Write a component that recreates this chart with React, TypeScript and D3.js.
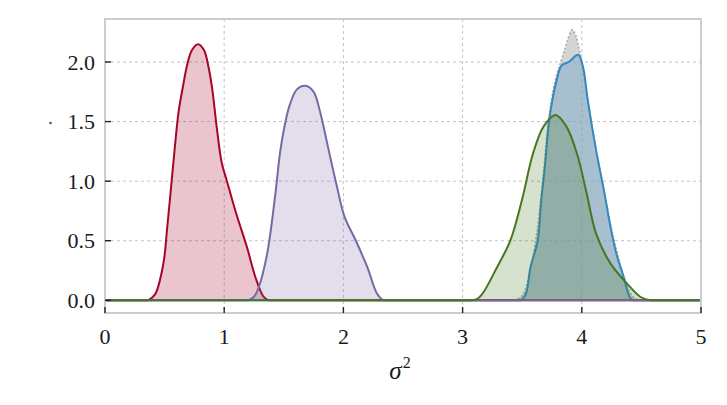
import React from "react";
import * as d3 from "d3";

// ---- data ----
const xTicks = [0, 1, 2, 3, 4, 5];
const yTicks = [0.0, 0.5, 1.0, 1.5, 2.0];
const yTickLabels = ["0.0", "0.5", "1.0", "1.5", "2.0"];

const redSigma = [0, 0.36, 0.42, 0.49, 0.52, 0.56, 0.6, 0.62, 0.655, 0.69, 0.73, 0.78, 0.83, 0.87, 0.9, 0.94, 0.98, 1.02, 1.1, 1.19, 1.26, 1.33, 1.37, 5];
const redDensity = [0, 0, 0.05, 0.31, 0.59, 1.01, 1.43, 1.6, 1.8, 1.98, 2.1, 2.15, 2.1, 1.95, 1.77, 1.43, 1.15, 1.01, 0.73, 0.45, 0.2, 0.03, 0, 0];

const purpleSigma = [0, 1.2, 1.25, 1.29, 1.36, 1.43, 1.47, 1.51, 1.55, 1.61, 1.68, 1.75, 1.8, 1.87, 1.94, 2.01, 2.1, 2.2, 2.28, 2.33, 5];
const purpleDensity = [0, 0, 0.03, 0.11, 0.39, 0.9, 1.25, 1.48, 1.64, 1.77, 1.8, 1.75, 1.6, 1.29, 0.98, 0.7, 0.51, 0.28, 0.06, 0, 0];

const greenSigma = [0, 3.06, 3.12, 3.17, 3.29, 3.4, 3.5, 3.59, 3.68, 3.78, 3.87, 3.96, 4.04, 4.12, 4.24, 4.38, 4.49, 4.58, 5];
const greenDensity = [0, 0, 0.01, 0.06, 0.28, 0.5, 0.85, 1.23, 1.46, 1.555, 1.46, 1.23, 0.9, 0.56, 0.31, 0.14, 0.03, 0, 0];

const blueSigma = [0, 3.49, 3.53, 3.57, 3.63, 3.66, 3.69, 3.73, 3.79, 3.83, 3.89, 3.97, 4.01, 4.05, 4.12, 4.19, 4.24, 4.29, 4.35, 4.4, 4.43, 5];
const blueDensity = [0, 0, 0.05, 0.28, 0.5, 0.84, 1.12, 1.54, 1.85, 1.97, 2.0, 2.06, 1.96, 1.68, 1.26, 0.9, 0.62, 0.39, 0.2, 0.03, 0, 0];

const graySigma = [0, 3.43, 3.5, 3.56, 3.62, 3.67, 3.72, 3.78, 3.83, 3.87, 3.9, 3.92, 3.95, 3.98, 4.01, 4.05, 4.12, 4.19, 4.25, 4.31, 4.37, 4.43, 4.48, 5];
const grayDensity = [0, 0, 0.04, 0.22, 0.55, 0.98, 1.5, 1.86, 2.02, 2.15, 2.24, 2.27, 2.22, 2.1, 1.95, 1.68, 1.26, 0.9, 0.6, 0.35, 0.15, 0.03, 0, 0];

const series = [
  { name: "gray", xs: graySigma, ys: grayDensity, color: "#aaaaaa", fill: "#b8b8b8", fillOpacity: 0.6, dash: "2,2", width: 1.6 },
  { name: "blue", xs: blueSigma, ys: blueDensity, color: "#348ABD", fill: "#348ABD", fillOpacity: 0.28, dash: null, width: 2 },
  { name: "red", xs: redSigma, ys: redDensity, color: "#A60628", fill: "#A60628", fillOpacity: 0.23, dash: null, width: 2 },
  { name: "purple", xs: purpleSigma, ys: purpleDensity, color: "#7A68A6", fill: "#7A68A6", fillOpacity: 0.22, dash: null, width: 2 },
  { name: "green", xs: greenSigma, ys: greenDensity, color: "#467821", fill: "#467821", fillOpacity: 0.22, dash: null, width: 2 },
];

const W = 727;
const H = 405;
const L = 105, R = 701, T = 19, B = 313;

export default function App() {
  const x = d3.scaleLinear().domain([0, 5]).range([L, R]);
  const y = d3.scaleLinear().domain([0, 2.0]).range([300.3, 62]);
  const curve = d3.curveCatmullRom.alpha(0.5);
  const line = d3.line<[number, number]>().x(d => x(d[0])).y(d => Math.min(y(0), y(d[1]))).curve(curve);
  const area = d3.area<[number, number]>().x(d => x(d[0])).y0(y(0)).y1(d => y(d[1])).curve(curve);
  const font = "'Liberation Serif', 'DejaVu Serif', serif";

  return (
    <svg width={W} height={H} style={{ position: "absolute", left: 0, top: 0, background: "#fff" }}>
      <defs>
        <clipPath id="plot">
          <rect x={L} y={T} width={R - L} height={B - T} />
        </clipPath>
        <clipPath id="above0">
          <rect x={L} y={T} width={R - L} height={y(0) - T + 1} />
        </clipPath>
      </defs>
      {/* grid */}
      <g stroke="#c4c4c4" strokeWidth={1} strokeDasharray="3,3">
        {xTicks.slice(1, -1).map(t => (
          <line key={"gx" + t} x1={x(t)} x2={x(t)} y1={T} y2={B} />
        ))}
        {yTicks.slice(1).map(t => (
          <line key={"gy" + t} x1={L} x2={R} y1={y(t)} y2={y(t)} />
        ))}
      </g>
      {/* curves */}
      <g clipPath="url(#plot)">
        {series.map(s => {
          const pts = s.xs.map((v, i) => [v, s.ys[i]] as [number, number]);
          const body = pts.slice(1, -1);
          const first = body[0];
          const last = body[body.length - 1];
          return (
            <g key={s.name}>
              <path d={area(body) || ""} fill={s.fill} fillOpacity={s.fillOpacity} stroke="none" clipPath="url(#above0)" />
              <path d={line(body) || ""} fill="none" stroke={s.color} strokeWidth={s.width} strokeDasharray={s.dash || undefined} />
              <line x1={x(pts[0][0])} x2={x(first[0])} y1={y(0)} y2={y(0)} stroke={s.color} strokeWidth={s.width} />
              <line x1={x(last[0])} x2={x(pts[pts.length - 1][0])} y1={y(0)} y2={y(0)} stroke={s.color} strokeWidth={s.width} />
            </g>
          );
        })}
      </g>
      {/* frame */}
      <rect x={L} y={T} width={R - L} height={B - T} fill="none" stroke="#cccccc" strokeWidth={2} />
      {/* ticks */}
      <g stroke="#222" strokeWidth={1.4}>
        {yTicks.map(t => (
          <line key={"ty" + t} x1={L} x2={L + 6} y1={y(t)} y2={y(t)} />
        ))}
        {xTicks.map(t => (
          <line key={"tx" + t} x1={x(t)} x2={x(t)} y1={B} y2={B - 6} />
        ))}
      </g>
      {/* tick labels */}
      <g fontFamily={font} fontSize={22} fill="#1a1a1a">
        {yTicks.map((t, i) => (
          <text key={"ly" + t} x={95} y={y(t)} textAnchor="end" dominantBaseline="central">{yTickLabels[i]}</text>
        ))}
        {xTicks.map(t => (
          <text key={"lx" + t} x={x(t)} y={336} textAnchor="middle" dominantBaseline="central">{t}</text>
        ))}
      </g>
      {/* axis label */}
      <text x={400} y={379} textAnchor="middle" fontFamily={font} fontSize={25} fill="#1a1a1a">
        <tspan fontStyle="italic">σ</tspan>
        <tspan fontSize={16} dx={1} dy={-11}>2</tspan>
      </text>
      {/* clipped remnant of y label */}
      <circle cx={50.5} cy={123} r={1.3} fill="#555" />
    </svg>
  );
}
